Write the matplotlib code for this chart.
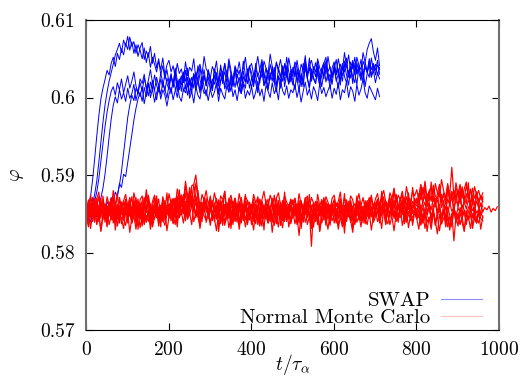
import numpy as np
import matplotlib.pyplot as plt

plt.rcParams['font.family'] = ['cmr10', 'DejaVu Serif']
plt.rcParams['mathtext.fontset'] = 'cm'
plt.rcParams['axes.formatter.use_mathtext'] = True

# packing fraction phi(t), stored as (phi - 0.58) * 1e4, one sample every 5 tau_alpha
# (first sample at t = 1; each run starts from its *_start value at t = 0)
swap_start = -45
swap_run_1 = [42, 55, 48, 60, 66, 78, 95, 118, 140, 162, 181, 196, 208, 214, 203, 219, 210, 224, 206, 217,
              228, 212, 221, 233, 215, 207, 224, 218, 230, 211, 222, 236, 219, 209, 226, 214, 231, 220, 208, 225,
              216, 229, 213, 238, 222, 210, 227, 219, 235, 214, 224, 206, 230, 218, 241, 223, 212, 228, 217, 233,
              221, 209, 236, 224, 215, 232, 218, 244, 227, 213, 230, 222, 239, 216, 226, 211, 234, 220, 229, 241,
              225, 214, 237, 228, 219, 246, 231, 217, 235, 223, 240, 226, 213, 238, 229, 221, 244, 232, 218, 236,
              227, 243, 220, 235, 214, 230, 248, 225, 239, 221, 233, 245, 228, 216, 237, 224, 242, 231, 219, 238,
              246, 229, 237, 222, 241, 233, 251, 226, 239, 218, 244, 230, 236, 249, 225, 240, 232, 247, 228, 242,
              235, 248, 230]
swap_run_2 = [46, 40, 57, 63, 75, 92, 116, 142, 168, 190, 207, 221, 232, 243, 255, 262, 270, 258, 274, 266,
              279, 261, 272, 257, 268, 253, 264, 271, 249, 260, 252, 266, 244, 257, 238, 250, 229, 241, 224, 236,
              219, 231, 214, 228, 208, 223, 216, 233, 211, 226, 204, 219, 230, 213, 225, 209, 222, 236, 215, 227,
              210, 224, 217, 232, 206, 221, 228, 214, 235, 219, 208, 226, 213, 230, 218, 205, 227, 220, 234, 212,
              225, 218, 231, 209, 223, 238, 216, 229, 211, 226, 235, 219, 207, 228, 221, 240, 214, 230, 217, 233,
              222, 210, 236, 219, 228, 214, 241, 224, 212, 233, 226, 218, 237, 215, 229, 243, 220, 232, 211, 227,
              238, 221, 230, 216, 244, 227, 219, 235, 225, 248, 231, 217, 240, 228, 222, 246, 233, 226, 251, 236,
              243, 229, 239]
swap_run_3 = [50, 38, 47, 58, 44, 62, 55, 70, 83, 101, 124, 149, 172, 190, 201, 193, 210, 198, 206, 195,
              212, 199, 205, 217, 196, 208, 201, 214, 192, 207, 219, 200, 211, 194, 206, 215, 198, 210, 203, 189,
              204, 213, 197, 209, 220, 201, 195, 211, 206, 218, 199, 208, 193, 214, 203, 198, 216, 205, 210, 196,
              211, 200, 207, 219, 195, 212, 204, 198, 215, 207, 222, 201, 210, 196, 213, 205, 218, 199, 209, 203,
              214, 198, 207, 221, 202, 211, 195, 216, 208, 200, 219, 205, 212, 197, 223, 209, 203, 215, 199, 210,
              206, 217, 200, 212, 194, 208, 220, 203, 211, 198, 214, 207, 196, 218, 205, 213, 201, 209, 216, 199,
              212, 204, 219, 197, 210, 206, 221, 200, 214, 208, 195, 217, 203, 211, 224, 206, 199, 215, 209, 203,
              197, 212, 201]
swap_run_4 = [44, 52, 39, 49, 57, 46, 60, 51, 66, 58, 48, 63, 55, 69, 61, 74, 87, 105, 128, 152,
              174, 190, 203, 196, 212, 205, 219, 208, 225, 214, 202, 220, 211, 229, 216, 207, 224, 213, 231, 218,
              210, 227, 219, 235, 214, 224, 208, 230, 221, 238, 216, 226, 212, 233, 222, 240, 218, 229, 215, 236,
              225, 213, 237, 228, 217, 242, 224, 233, 219, 245, 230, 216, 238, 226, 235, 221, 247, 229, 218, 240,
              232, 220, 244, 227, 236, 249, 225, 238, 222, 243, 231, 219, 246, 234, 226, 241, 228, 252, 233, 220,
              239, 227, 248, 232, 221, 244, 236, 229, 251, 225, 240, 233, 247, 222, 238, 245, 230, 253, 237, 226,
              243, 231, 250, 236, 228, 247, 239, 255, 233, 244, 230, 252, 241, 236, 258, 245, 262, 270, 276, 259,
              248, 264, 241]
swap_run_5 = [47, 41, 53, 45, 58, 50, 43, 56, 62, 52, 66, 59, 71, 64, 78, 72, 89, 84, 101, 98,
              116, 134, 152, 171, 186, 198, 207, 195, 213, 201, 218, 206, 222, 209, 197, 215, 204, 220, 211, 199,
              217, 205, 223, 212, 200, 219, 228, 208, 216, 203, 225, 213, 231, 210, 221, 206, 227, 214, 202, 218,
              224, 209, 229, 216, 204, 222, 233, 211, 219, 207, 226, 214, 235, 218, 208, 228, 220, 212, 237, 223,
              213, 230, 219, 206, 227, 238, 215, 224, 210, 232, 221, 239, 217, 226, 212, 234, 222, 241, 219, 228,
              216, 235, 223, 209, 231, 219, 244, 226, 213, 237, 224, 218, 241, 229, 214, 233, 247, 222, 230, 217,
              238, 225, 212, 234, 221, 243, 229, 216, 240, 227, 219, 245, 232, 222, 237, 214, 231, 242, 226, 235,
              219, 232, 224]
swap_run_6 = [53, 60, 72, 94, 121, 150, 176, 198, 212, 223, 235, 229, 244, 252, 240, 257, 249, 263, 255, 270,
              262, 278, 266, 272, 257, 268, 261, 250, 264, 245, 258, 239, 252, 243, 233, 247, 236, 251, 229, 242,
              248, 233, 241, 226, 244, 231, 237, 222, 246, 228, 239, 234, 250, 224, 236, 243, 229, 253, 237, 232,
              225, 240, 233, 247, 221, 238, 231, 244, 227, 250, 235, 222, 241, 232, 246, 228, 237, 252, 230, 239,
              244, 229, 238, 253, 234, 226, 247, 238, 231, 256, 240, 227, 245, 236, 249, 233, 242, 228, 251, 237,
              232, 246, 239, 224, 243, 235, 254, 229, 241, 248, 236, 227, 250, 238, 231, 244, 252, 233, 240, 226,
              237, 249, 230, 243, 235, 258, 240, 228, 246, 237, 252, 232, 241, 225, 247, 239, 233, 250, 236, 244,
              229, 242, 236]

mc_start = -100
mc_run_1 = [52, 38, 61, 47, 70, 55, 43, 66, 50, 59, 41, 63, 48, 72, 54, 45, 60, 37, 57, 68,
            49, 62, 40, 58, 71, 46, 55, 34, 63, 52, 67, 44, 59, 50, 73, 41, 56, 64, 47, 60,
            53, 69, 45, 61, 38, 57, 74, 50, 66, 43, 58, 71, 62, 48, 80, 57, 65, 52, 70, 46,
            59, 42, 64, 51, 68, 39, 55, 62, 45, 70, 53, 36, 60, 49, 66, 56, 41, 63, 54, 47,
            61, 50, 37, 58, 69, 44, 56, 65, 48, 60, 39, 57, 71, 52, 46, 63, 55, 40, 59, 67,
            45, 62, 53, 38, 66, 57, 49, 70, 42, 58, 64, 51, 36, 60, 55, 68, 47, 61, 43, 56,
            63, 48, 57, 69, 40, 54, 61, 46, 67, 52, 38, 59, 65, 50, 56, 43, 62, 71, 49, 58,
            54, 66, 47, 60, 72, 51, 63, 45, 69, 58, 74, 56, 64, 49, 71, 60, 77, 53, 66, 62,
            70, 57, 79, 64, 86, 61, 73, 68, 82, 59, 76, 88, 67, 74, 62, 85, 71, 79, 66, 90,
            75, 63, 81, 69, 87, 72, 64, 83, 70, 78, 61, 74, 68]
mc_run_2 = [60, 46, 55, 71, 49, 63, 40, 57, 66, 44, 58, 51, 69, 38, 62, 53, 47, 65, 42, 56,
            64, 50, 39, 59, 68, 45, 57, 36, 61, 54, 70, 43, 52, 63, 48, 58, 41, 66, 55, 49,
            57, 44, 62, 70, 51, 66, 59, 75, 48, 63, 84, 67, 55, 71, 58, 49, 64, 52, 60, 45,
            53, 67, 40, 58, 49, 63, 35, 56, 61, 44, 69, 52, 47, 59, 38, 64, 55, 42, 57, 50,
            62, 45, 58, 36, 53, 66, 48, 60, 41, 55, 67, 50, 38, 61, 54, 46, 63, 52, 43, 57,
            49, 60, 42, 55, 67, 39, 53, 61, 46, 58, 33, 51, 64, 47, 56, 42, 59, 50, 37, 54,
            58, 44, 62, 51, 37, 56, 65, 48, 59, 41, 53, 66, 45, 57, 50, 39, 61, 54, 46, 63,
            47, 55, 40, 60, 52, 36, 58, 49, 63, 44, 54, 39, 57, 50, 61, 42, 48, 59, 35, 53,
            44, 56, 38, 50, 31, 47, 59, 41, 52, 36, 48, 28, 45, 55, 39, 50, 33, 47, 58, 40,
            51, 37, 46, 29, 54, 42, 49, 35, 57, 44, 38, 52, 45]
mc_run_3 = [55, 68, 49, 61, 44, 58, 72, 53, 65, 47, 60, 56, 70, 45, 63, 51, 67, 58, 42, 64,
            57, 71, 48, 62, 55, 69, 43, 60, 66, 52, 74, 58, 47, 63, 70, 54, 61, 49, 67, 56,
            62, 50, 68, 57, 73, 46, 64, 59, 77, 53, 66, 61, 88, 70, 58, 65, 52, 71, 60, 55,
            63, 48, 59, 70, 54, 66, 41, 57, 64, 50, 68, 55, 62, 46, 60, 71, 53, 58, 45, 65,
            56, 69, 47, 61, 52, 66, 58, 43, 63, 55, 70, 49, 57, 64, 51, 67, 45, 60, 53, 62,
            68, 54, 60, 46, 65, 57, 71, 50, 62, 44, 58, 66, 53, 61, 48, 69, 56, 63, 51, 59,
            52, 64, 57, 70, 47, 61, 55, 66, 43, 58, 63, 50, 67, 56, 60, 48, 65, 54, 59, 45,
            61, 69, 55, 73, 58, 66, 50, 64, 71, 57, 75, 62, 53, 68, 60, 72, 56, 65, 58, 70,
            63, 76, 68, 84, 71, 62, 79, 66, 87, 73, 69, 81, 64, 77, 71, 89, 68, 75, 80, 66,
            78, 70, 85, 64, 76, 69, 82, 73, 61, 77, 67, 72, 65]
mc_run_4 = [45, 33, 52, 40, 58, 37, 48, 29, 50, 43, 55, 36, 47, 41, 57, 34, 49, 44, 31, 53,
            42, 56, 38, 47, 30, 51, 44, 59, 36, 48, 40, 54, 33, 46, 52, 39, 57, 43, 35, 49,
            55, 41, 48, 36, 60, 45, 52, 38, 57, 44, 49, 62, 40, 51, 46, 34, 55, 47, 42, 53,
            39, 50, 44, 28, 52, 41, 56, 35, 47, 53, 38, 49, 43, 58, 36, 45, 51, 33, 48, 42,
            53, 40, 57, 46, 34, 50, 43, 55, 38, 48, 44, 59, 37, 51, 45, 32, 54, 42, 49, 39,
            47, 55, 36, 50, 44, 60, 39, 48, 53, 35, 46, 51, 42, 57, 38, 49, 44, 30, 52, 41,
            50, 38, 54, 45, 33, 51, 43, 57, 40, 47, 36, 52, 46, 41, 55, 37, 49, 44, 53, 39,
            46, 54, 38, 49, 57, 42, 51, 36, 47, 55, 40, 50, 45, 58, 37, 48, 53, 41, 46, 52,
            43, 50, 35, 47, 54, 39, 45, 30, 52, 41, 48, 56, 37, 44, 50, 33, 46, 42, 55, 38,
            49, 36, 45, 52, 40, 47, 31, 50, 43, 38, 54, 44, 41]
mc_run_5 = [58, 44, 63, 51, 67, 47, 56, 70, 42, 60, 53, 65, 46, 59, 38, 62, 55, 49, 66, 52,
            61, 47, 57, 68, 43, 55, 64, 50, 37, 59, 66, 48, 56, 62, 45, 58, 52, 69, 41, 57,
            50, 63, 56, 45, 67, 58, 72, 54, 61, 49, 78, 62, 56, 65, 47, 59, 53, 68, 55, 48,
            62, 51, 57, 43, 65, 54, 60, 47, 58, 66, 50, 56, 41, 63, 55, 48, 61, 53, 67, 46,
            54, 60, 45, 57, 66, 49, 58, 52, 63, 41, 56, 61, 50, 67, 47, 59, 53, 44, 62, 55,
            58, 47, 63, 52, 40, 59, 55, 66, 48, 57, 62, 45, 56, 51, 68, 43, 60, 54, 49, 64,
            51, 57, 44, 61, 53, 25, 58, 49, 63, 46, 55, 60, 42, 57, 52, 65, 47, 58, 54, 50,
            60, 53, 65, 48, 58, 62, 51, 67, 55, 46, 61, 57, 52, 64, 49, 59, 55, 63, 50, 58,
            56, 62, 49, 58, 65, 52, 60, 47, 57, 63, 54, 59, 45, 61, 56, 50, 64, 53, 58, 48,
            57, 52, 61, 55, 49, 58, 63, 54, 59, 51, 56, 62, 53, 58, 55, 60, 52, 57, 54, 59]
mc_run_6 = [50, 64, 55, 41, 60, 68, 52, 57, 45, 63, 58, 49, 67, 54, 61, 43, 59, 65, 51, 56,
            47, 60, 53, 66, 44, 58, 62, 49, 71, 55, 50, 63, 41, 57, 64, 52, 59, 46, 61, 54,
            63, 55, 68, 50, 61, 57, 74, 59, 65, 52, 70, 81, 64, 72, 58, 63, 50, 67, 56, 61,
            57, 66, 52, 61, 45, 59, 68, 53, 64, 49, 60, 55, 70, 47, 58, 63, 51, 66, 54, 60,
            59, 48, 63, 56, 68, 51, 57, 45, 62, 54, 66, 50, 60, 58, 43, 64, 53, 61, 49, 57,
            65, 52, 59, 47, 63, 55, 69, 50, 58, 61, 45, 57, 64, 52, 60, 48, 66, 55, 62, 51,
            56, 49, 62, 54, 60, 39, 58, 64, 51, 57, 46, 63, 55, 60, 48, 59, 53, 66, 50, 58,
            64, 55, 61, 69, 53, 66, 58, 63, 50, 67, 60, 56, 71, 59, 65, 54, 68, 61, 57, 63,
            60, 70, 57, 66, 73, 59, 64, 55, 71, 62, 68, 58, 75, 63, 57, 69, 61, 72, 59, 66,
            62, 71, 58, 65, 56, 68, 61, 73, 60, 66, 57, 64, 59]
mc_run_7 = [62, 48, 71, 55, 39, 66, 58, 44, 73, 51, 35, 60, 68, 47, 57, 76, 42, 63, 50, 69,
            38, 59, 72, 46, 64, 30, 55, 67, 41, 74, 52, 36, 61, 70, 45, 58, 33, 66, 53, 77,
            44, 62, 37, 70, 56, 81, 49, 65, 92, 73, 58, 86, 88, 100, 76, 55, 40, 68, 59, 46,
            73, 41, 60, 52, 34, 67, 57, 79, 43, 62, 31, 55, 70, 48, 64, 38, 59, 75, 46, 53,
            36, 63, 50, 72, 44, 58, 29, 61, 69, 40, 56, 74, 47, 33, 65, 52, 78, 43, 60, 37,
            57, 70, 42, 64, 31, 53, 68, 45, 75, 39, 59, 48, 66, 27, 55, 71, 44, 62, 35, 58,
            69, 46, 34, 61, 53, 76, 40, 57, 65, 30, 52, 73, 43, 60, 38, 67, 49, 56, 72, 41,
            54, 68, 45, 79, 58, 37, 63, 71, 48, 82, 60, 44, 66, 75, 51, 39, 70, 57, 84, 62,
            47, 73, 88, 60, 41, 76, 65, 91, 53, 70, 44, 82, 58, 67, 39, 86, 62, 74, 49, 79,
            57, 84, 45, 71, 63, 90, 52, 67, 43, 78, 60, 49, 72]
mc_run_8 = [40, 57, 31, 49, 63, 36, 52, 27, 46, 58, 33, 54, 42, 61, 29, 50, 38, 56, 44, 35,
            51, 26, 45, 60, 37, 53, 32, 48, 64, 39, 55, 30, 47, 43, 58, 34, 50, 41, 57, 28,
            46, 62, 38, 54, 33, 67, 49, 58, 41, 72, 52, 36, 60, 45, 55, 31, 49, 63, 39, 50,
            35, 53, 44, 61, 27, 48, 57, 38, 52, 32, 46, 59, 40, 54, 30, 49, 43, 62, 36, 51,
            45, 29, 56, 41, 50, 34, 60, 47, 38, 55, 26, 49, 43, 58, 35, 51, 40, 62, 33, 47,
            54, 37, 48, 22, 51, 43, 59, 36, 46, 31, 55, 40, 50, 28, 44, 57, 35, 49, 42, 60,
            38, 51, 30, 47, 56, 34, 45, 59, 41, 26, 53, 39, 48, 33, 57, 44, 36, 52, 29, 46,
            55, 40, 49, 31, 58, 43, 37, 53, 46, 28, 50, 41, 60, 35, 47, 54, 32, 49, 39, 56,
            44, 30, 52, 38, 58, 27, 46, 35, 54, 41, 24, 49, 37, 56, 33, 45, 29, 51, 15, 47,
            34, 52, 39, 27, 48, 43, 56, 31, 45, 38, 53, 30, 47]
mc_run_9 = [66, 53, 74, 60, 47, 69, 78, 57, 64, 50, 72, 61, 55, 80, 63, 49, 71, 58, 67, 75,
            59, 70, 52, 77, 64, 48, 68, 73, 56, 81, 62, 51, 66, 74, 58, 69, 45, 72, 61, 54,
            76, 63, 70, 57, 82, 68, 74, 60, 87, 66, 78, 71, 64, 90, 69, 58, 75, 67, 80, 62,
            71, 59, 77, 65, 52, 73, 68, 79, 55, 66, 74, 61, 70, 57, 76, 63, 50, 72, 67, 60,
            57, 75, 64, 71, 53, 68, 79, 62, 58, 74, 66, 50, 70, 77, 61, 55, 73, 65, 59, 69,
            63, 70, 55, 76, 62, 48, 67, 73, 58, 71, 64, 52, 75, 60, 68, 57, 72, 65, 53, 70,
            74, 59, 66, 78, 54, 70, 63, 57, 73, 68, 51, 65, 76, 60, 71, 55, 67, 62, 74, 58,
            69, 76, 61, 72, 80, 65, 59, 77, 70, 83, 64, 74, 68, 79, 62, 85, 71, 66, 78, 73,
            81, 68, 87, 74, 92, 70, 79, 85, 66, 89, 77, 72, 94, 80, 68, 86, 75, 110, 71, 83,
            76, 88, 70, 82, 91, 73, 79, 67, 85, 74, 80, 69, 77]
mc_run_10 = [55, 41, 63, 48, 58, 70, 44, 52, 66, 39, 60, 47, 56, 71, 43, 62, 50, 57, 45, 64,
             52, 67, 38, 58, 49, 63, 54, 42, 69, 56, 46, 61, 35, 57, 65, 48, 53, 40, 62, 59,
             47, 60, 53, 66, 42, 57, 71, 50, 63, 45, 59, 68, 54, 49, 64, 40, 58, 52, 67, 44,
             61, 50, 43, 58, 65, 37, 54, 62, 48, 57, 44, 66, 51, 39, 60, 55, 47, 63, 42, 59,
             50, 64, 46, 55, 38, 61, 53, 68, 44, 57, 49, 35, 63, 52, 59, 41, 66, 48, 54, 60,
             45, 58, 51, 67, 40, 56, 62, 47, 53, 8, 55, 64, 43, 59, 50, 66, 38, 57, 61, 48,
             54, 42, 63, 50, 57, 45, 68, 52, 39, 60, 55, 47, 64, 41, 58, 51, 62, 44, 56, 49,
             59, 66, 48, 55, 62, 43, 57, 70, 51, 64, 46, 60, 53, 67, 41, 58, 63, 49, 56, 61,
             52, 45, 60, 38, 55, 49, 64, 42, 57, 35, 51, 62, 46, 54, 40, 59, 48, 33, 56, 50,
             43, 58, 47, 54, 36, 52, 61, 45, 50, 39, 57, 48, 53]

swap_runs = [swap_run_1, swap_run_2, swap_run_3, swap_run_4, swap_run_5, swap_run_6]
mc_runs = [mc_run_1, mc_run_2, mc_run_3, mc_run_4, mc_run_5, mc_run_6,
           mc_run_7, mc_run_8, mc_run_9, mc_run_10]

x_ticks = [0, 200, 400, 600, 800, 1000]
y_ticks = [0.57, 0.58, 0.59, 0.60, 0.61]
y_tick_labels = ['0.57', '0.58', '0.59', '0.6', '0.61']


def to_curve(start, run):
    t = np.r_[0, 1 + 5 * np.arange(len(run))]
    phi = 0.58 + np.r_[start, run] * 1e-4
    return t, phi


fig = plt.figure(figsize=(5.26, 3.76), dpi=100)
ax = fig.add_axes([0.1635, 0.1223, 0.785, 0.8245])

for run in swap_runs:
    t, phi = to_curve(swap_start, run)
    ax.plot(t, phi, color='#0000ff', lw=0.7)
for run in mc_runs:
    t, phi = to_curve(mc_start, run)
    ax.plot(t, phi, color='#ff0000', lw=0.85)

ax.set_xlim(0, 1000)
ax.set_ylim(0.57, 0.61)
ax.set_xticks(x_ticks)
ax.set_yticks(y_ticks)
ax.set_yticklabels(y_tick_labels)
ax.tick_params(direction='in', length=5, width=0.8, top=True, right=True,
               labelsize=14, pad=8)
for side in ['left', 'right']:
    ax.spines[side].set_color('#707070')
    ax.spines[side].set_linewidth(1.5)

ax.set_xlabel(r'$t/\tau_\alpha$', fontsize=14)
ax.xaxis.set_label_coords(0.5, -0.07)
ax.set_ylabel(r'$\varphi$', fontsize=14, labelpad=10)

h1, = ax.plot([], [], color='#0000ff', lw=0.8, alpha=0.45)
h2, = ax.plot([], [], color='#ff0000', lw=0.8, alpha=0.25)
ax.legend([h1, h2], ['SWAP', 'Normal Monte Carlo'], loc='lower right',
          bbox_to_anchor=(0.96, 0.01), frameon=False, markerfirst=False,
          fontsize=15, handlelength=2.0, handletextpad=0.5,
          labelspacing=-0.08, borderpad=0, borderaxespad=0)

fig.savefig('out.png', dpi=100)
